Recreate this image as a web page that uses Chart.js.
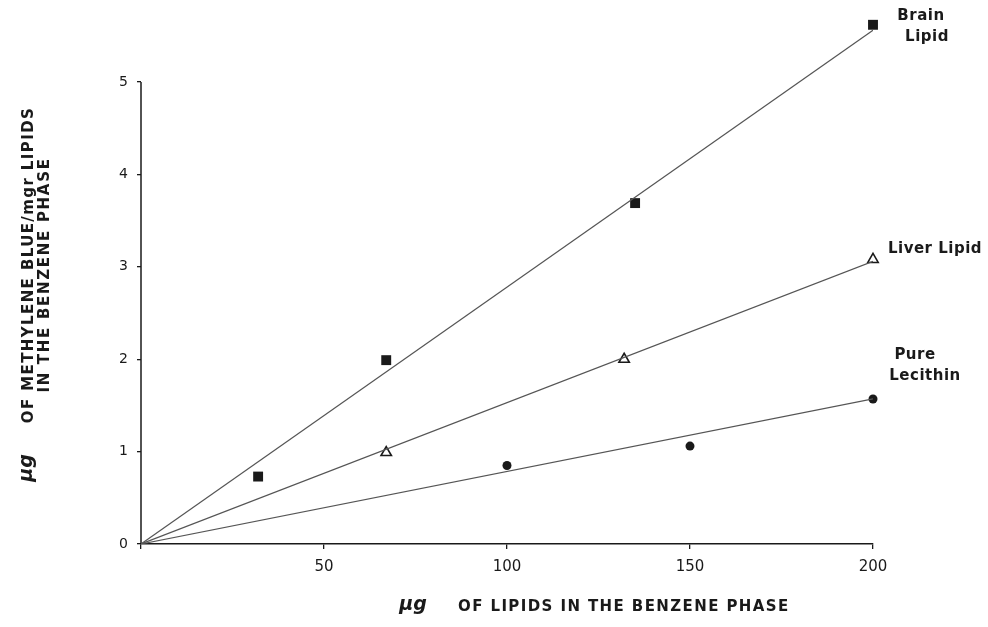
<!DOCTYPE html>
<html>
<head>
<meta charset="utf-8">
<script src="https://cdn.jsdelivr.net/npm/chart.js@4/dist/chart.umd.min.js"></script>
<style>
  html, body { margin: 0; padding: 0; background: #fff; }
  #wrap { width: 988px; height: 627px; }
</style>
</head>
<body>
<div id="wrap"><canvas id="lipidChart" width="988" height="627"></canvas></div>
<script>
const brainX = [32, 67, 135, 200];
const brainY = [0.73, 1.99, 3.69, 5.62];
const liverX = [67, 132, 200];
const liverY = [0.99, 2.0, 3.08];
const lecithinX = [100, 150, 200];
const lecithinY = [0.85, 1.06, 1.57];

// Fitted lines (through the origin)
const fitX = [0, 200];
const brainFit = [0, 5.56];
const liverFit = [0, 3.06];
const lecithinFit = [0, 1.57];

const xTicks = [0, 50, 100, 150, 200];
const yTicks = [0, 1, 2, 3, 4, 5];

const pts = (xs, ys) => xs.map((x, i) => ({x: x, y: ys[i]}));

const ink = '#1a1a1a';
const lineGrey = '#555';

// y axis line only runs up to the last tick (5), the plot area goes higher
// so the top brain point is not cut off
const axisPlugin = {
  id: 'yAxisLine',
  beforeDatasetsDraw(chart) {
    const {ctx, scales: {x, y}} = chart;
    const px = x.getPixelForValue(0);
    ctx.save();
    ctx.strokeStyle = ink;
    ctx.lineWidth = 1.5;
    ctx.beginPath();
    ctx.moveTo(px, y.getPixelForValue(0));
    ctx.lineTo(px, y.getPixelForValue(yTicks[yTicks.length - 1]));
    ctx.stroke();
    ctx.restore();
  }
};

// Free text: axis titles and series labels
const textPlugin = {
  id: 'figText',
  afterDraw(chart) {
    const ctx = chart.ctx;
    ctx.save();
    ctx.fillStyle = ink;
    ctx.textBaseline = 'middle';
    ctx.textAlign = 'center';

    // series labels
    ctx.font = 'bold 15px "DejaVu Sans"';
    ctx.letterSpacing = '0.5px';
    ctx.fillText('Brain', 921, 16);
    ctx.fillText('Lipid', 927, 37);
    ctx.fillText('Liver Lipid', 935, 249);
    ctx.fillText('Pure', 915, 355);
    ctx.fillText('Lecithin', 925, 376);

    // x axis title
    ctx.letterSpacing = '0px';
    ctx.font = 'italic bold 19px "DejaVu Sans"';
    ctx.fillText('\u03BCg', 413, 605);
    ctx.font = 'bold 15px "DejaVu Sans"';
    ctx.letterSpacing = '1.4px';
    ctx.textAlign = 'left';
    ctx.fillText('OF LIPIDS IN THE BENZENE PHASE', 458, 607);

    // y axis title (rotated)
    ctx.save();
    ctx.translate(27, 468);
    ctx.rotate(-Math.PI / 2);
    ctx.textAlign = 'center';
    ctx.letterSpacing = '0px';
    ctx.font = 'italic bold 19px "DejaVu Sans"';
    ctx.fillText('\u03BCg', 0, 0);
    ctx.restore();

    ctx.save();
    ctx.translate(29, 265);
    ctx.rotate(-Math.PI / 2);
    ctx.textAlign = 'center';
    ctx.font = 'bold 15px "DejaVu Sans"';
    ctx.letterSpacing = '1.4px';
    ctx.fillText('OF METHYLENE BLUE/mgr LIPIDS', 0, 0);
    ctx.restore();

    ctx.save();
    ctx.translate(45, 275);
    ctx.rotate(-Math.PI / 2);
    ctx.textAlign = 'center';
    ctx.font = 'bold 15px "DejaVu Sans"';
    ctx.letterSpacing = '1.7px';
    ctx.fillText('IN THE BENZENE PHASE', 0, 0);
    ctx.restore();

    ctx.restore();
  }
};

const ctx = document.getElementById('lipidChart').getContext('2d');
new Chart(ctx, {
  type: 'scatter',
  data: {
    datasets: [
      {
        label: 'Brain Lipid fit',
        data: pts(fitX, brainFit),
        showLine: true, pointRadius: 0,
        borderColor: lineGrey, borderWidth: 1.2
      },
      {
        label: 'Liver Lipid fit',
        data: pts(fitX, liverFit),
        showLine: true, pointRadius: 0,
        borderColor: lineGrey, borderWidth: 1.2
      },
      {
        label: 'Pure Lecithin fit',
        data: pts(fitX, lecithinFit),
        showLine: true, pointRadius: 0,
        borderColor: lineGrey, borderWidth: 1.2
      },
      {
        label: 'Brain Lipid',
        data: pts(brainX, brainY),
        pointStyle: 'rect', pointRadius: 7,
        backgroundColor: ink, borderColor: ink, borderWidth: 0,
        clip: false
      },
      {
        label: 'Liver Lipid',
        data: pts(liverX, liverY),
        pointStyle: 'triangle', pointRadius: 6,
        backgroundColor: '#fff', borderColor: ink, borderWidth: 1.6,
        clip: false
      },
      {
        label: 'Pure Lecithin',
        data: pts(lecithinX, lecithinY),
        pointStyle: 'circle', pointRadius: 4.5,
        backgroundColor: ink, borderColor: ink, borderWidth: 0,
        clip: false
      }
    ]
  },
  options: {
    responsive: false,
    animation: false,
    layout: {padding: {left: 0, right: 115, top: 14, bottom: 0}},
    plugins: {legend: {display: false}, tooltip: {enabled: false}},
    scales: {
      x: {
        type: 'linear',
        min: 0, max: 200,
        afterBuildTicks: (s) => { s.ticks = xTicks.map(v => ({value: v})); },
        afterFit: (s) => { s.height = 83; },
        border: {display: true, color: ink, width: 1.5},
        grid: {drawOnChartArea: false, drawTicks: true, tickLength: 5, color: ink, lineWidth: 1.3},
        ticks: {
          color: ink, padding: 9,
          font: {family: 'DejaVu Sans', size: 15},
          callback: (v) => v === 0 ? '' : v
        }
      },
      y: {
        type: 'linear',
        min: 0, max: 5.7,
        afterBuildTicks: (s) => { s.ticks = yTicks.map(v => ({value: v})); },
        afterFit: (s) => { s.width = 141; },
        border: {display: false},
        grid: {drawOnChartArea: false, drawTicks: true, tickLength: 4, color: ink, lineWidth: 1.3},
        ticks: {
          color: ink, padding: 9,
          font: {family: 'DejaVu Sans', size: 14}
        }
      }
    }
  },
  plugins: [axisPlugin, textPlugin]
});
</script>
</body>
</html>
